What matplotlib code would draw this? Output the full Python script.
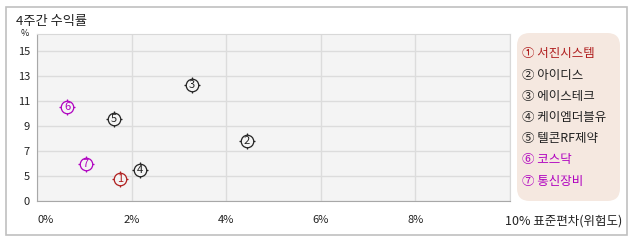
import numpy as np
import matplotlib
matplotlib.use("Agg")
import matplotlib.pyplot as plt
import matplotlib.transforms as mtrans
from matplotlib.patches import Rectangle, FancyBboxPatch

plt.rcParams['font.family'] = ['Noto Sans CJK KR', 'DejaVu Sans']

names = ['서진시스템', '아이디스', '에이스테크', '케이엠더블유', '텔콘RF제약', '코스닥', '통신장비']
marks = ['①', '②', '③', '④', '⑤', '⑥', '⑦']
risk = [1.75, 4.43, 3.28, 2.18, 1.63, 0.64, 1.03]      # 표준편차 (%)
ret = [4.4, 7.8, 12.28, 5.48, 9.56, 10.49, 5.98]        # 4주간 수익률 (%)
colors = ['#b01e1e', '#222222', '#222222', '#222222', '#222222', '#b000c0', '#b000c0']
yticks = [0, 5, 7, 9, 11, 13, 15]
xticks = [0, 2, 4, 6, 8, 10]
xticklabels = ['0%', '2%', '4%', '6%', '8%', '10% 표준편차(위험도)']

W, H = 638, 242
fig = plt.figure(figsize=(W / 100, H / 100), dpi=100)
fig.patch.set_facecolor('white')

# outer frame
fig.patches.append(Rectangle((6 / W, 1 - 235 / H), (627 - 6) / W, (235 - 7) / H,
                             transform=fig.transFigure, fill=False,
                             edgecolor='#c0c0c0', lw=1.2))

ax = fig.add_axes([37 / W, 1 - 201 / H, (510 - 37) / W, (201 - 34) / H])
ax.set_facecolor('#f4f4f4')


def fwd(y):
    y = np.asarray(y, dtype=float)
    return np.where(y <= 5, y / 5.0, 1 + (y - 5) / 2.0)


def inv(t):
    t = np.asarray(t, dtype=float)
    return np.where(t <= 1, t * 5.0, 5 + (t - 1) * 2.0)


ax.set_yscale('function', functions=(fwd, inv))
ax.set_xlim(0, 10)
ax.set_ylim(0, 16.32)
ax.set_yticks(yticks)
ax.set_yticklabels([str(v) for v in yticks])
ax.set_xticks(xticks)
ax.set_xticklabels(xticklabels)
ax.yaxis.set_minor_locator(matplotlib.ticker.NullLocator())
ax.grid(True, color='#dcdcdc', lw=1)
ax.set_axisbelow(True)
ax.tick_params(length=0, labelsize=8, colors='#222222')
ax.tick_params(axis='x', pad=10)
ax.tick_params(axis='y', pad=5)
labs = ax.get_xticklabels()
labs[0].set_ha('left')
labs[-1].set_ha('left')
labs[-1].set_fontsize(9)
labs[-1].set_transform(labs[-1].get_transform() +
                       mtrans.ScaledTranslation(-5 / 100, 0, fig.dpi_scale_trans))
for s in ['top', 'right']:
    ax.spines[s].set_color('#d8d8d8')
for s in ['left', 'bottom']:
    ax.spines[s].set_color('#a8a8a8')

for i, (xi, yi, c) in enumerate(zip(risk, ret, colors)):
    ax.plot([xi], [yi], marker='+', ms=11.2, mew=0.9, color=c, zorder=3)
    ax.plot([xi], [yi], marker='o', ms=9.0, mfc='#f4f4f4', mec=c, mew=0.9, zorder=4)
    ax.text(xi, yi, str(i + 1), ha='center', va='center',
            fontsize=8, color=c, zorder=5)

# title and unit
fig.text(16 / W, 1 - 21 / H, '4주간 수익률', ha='left', va='center', fontsize=9.5, color='#222222')
fig.text(24.5 / W, 1 - 34 / H, '%', ha='center', va='center', fontsize=6.5, color='#222222')

# legend box
fig.patches.append(FancyBboxPatch((517 / W, 1 - 201 / H), (620 - 517) / W, (201 - 33) / H,
                                  boxstyle='round,pad=0,rounding_size=0.02',
                                  transform=fig.transFigure, facecolor='#f5e8e0',
                                  edgecolor='none', mutation_aspect=W / H))
for i, (m, n, c) in enumerate(zip(marks, names, colors)):
    fig.text(522 / W, 1 - (54 + i * 21.2) / H, f'{m} {n}', ha='left', va='center',
             fontsize=9, color=c)

fig.savefig('out.png', dpi=100, facecolor='white')
